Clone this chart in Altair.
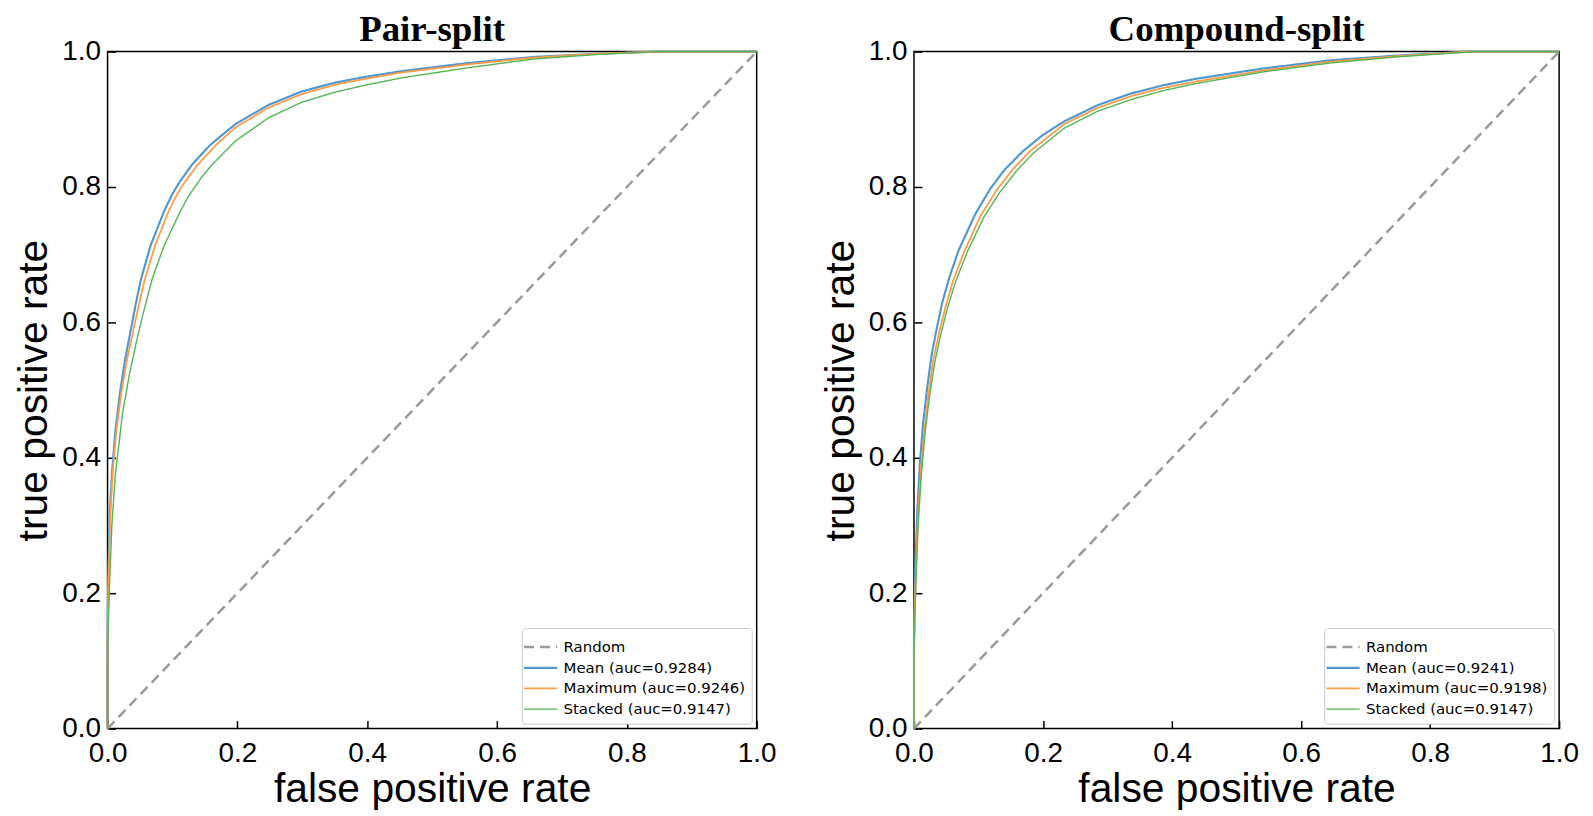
import altair as alt
import pandas as pd

# ---------------- data ----------------
series_keys = ["Random", "Mean", "Maximum", "Stacked"]
series_colors = ["#9a9a9a", "#4f97cf", "#ff9a45", "#55b455"]

random_fpr = [0.0, 1.0]
random_tpr = [0.0, 1.0]

# Pair-split
pair_title = "Pair-split"
pair_auc = ["0.9284", "0.9246", "0.9147"]
pair_mean_fpr = [0, 0, 0.0005, 0.0015, 0.0036, 0.007, 0.012, 0.019, 0.027, 0.035, 0.043, 0.051, 0.066, 0.087, 0.0995, 0.11, 0.13, 0.158, 0.197, 0.2476, 0.2986, 0.35, 0.393, 0.452, 0.554, 0.656, 0.758, 0.85, 1.0]
pair_mean_tpr = [0, 0.13, 0.18, 0.24, 0.32, 0.38, 0.44, 0.495, 0.545, 0.585, 0.625, 0.662, 0.713, 0.764, 0.789, 0.806, 0.833, 0.862, 0.893, 0.921, 0.941, 0.954, 0.962, 0.971, 0.983, 0.992, 0.997, 1.0, 1.0]
pair_max_fpr = [0, 0, 0.0007, 0.002, 0.0045, 0.008, 0.0135, 0.021, 0.030, 0.039, 0.048, 0.057, 0.073, 0.094, 0.107, 0.118, 0.139, 0.167, 0.197, 0.2476, 0.2986, 0.35, 0.393, 0.452, 0.554, 0.656, 0.758, 0.85, 1.0]
pair_max_tpr = [0, 0.13, 0.18, 0.24, 0.32, 0.38, 0.44, 0.495, 0.545, 0.585, 0.625, 0.662, 0.713, 0.764, 0.789, 0.806, 0.833, 0.862, 0.888, 0.917, 0.937, 0.951, 0.959, 0.969, 0.981, 0.991, 0.997, 1.0, 1.0]
pair_stk_fpr = [0, 0, 0.001, 0.003, 0.0066, 0.012, 0.023, 0.033, 0.043, 0.054, 0.069, 0.087, 0.110, 0.125, 0.1455, 0.16, 0.197, 0.2476, 0.2986, 0.35, 0.40, 0.452, 0.554, 0.656, 0.758, 0.85, 1.0]
pair_stk_tpr = [0, 0.1, 0.15, 0.21, 0.3, 0.375, 0.465, 0.52, 0.565, 0.61, 0.665, 0.713, 0.76, 0.787, 0.815, 0.832, 0.868, 0.902, 0.925, 0.94, 0.951, 0.961, 0.976, 0.989, 0.996, 1.0, 1.0]

# Compound-split
comp_title = "Compound-split"
comp_auc = ["0.9241", "0.9198", "0.9147"]
comp_mean_fpr = [0, 0, 0.001, 0.0026, 0.005, 0.009, 0.014, 0.020, 0.027, 0.035, 0.044, 0.055, 0.069, 0.095, 0.118, 0.140, 0.169, 0.2, 0.233, 0.285, 0.336, 0.385, 0.438, 0.541, 0.644, 0.746, 0.86, 1.0]
comp_mean_tpr = [0, 0.13, 0.19, 0.25, 0.32, 0.39, 0.45, 0.5, 0.55, 0.59, 0.63, 0.667, 0.706, 0.76, 0.797, 0.825, 0.853, 0.877, 0.897, 0.921, 0.938, 0.95, 0.96, 0.975, 0.987, 0.994, 1.0, 1.0]
comp_max_fpr = [0, 0, 0.0013, 0.0032, 0.006, 0.0105, 0.016, 0.0225, 0.030, 0.039, 0.049, 0.060, 0.078, 0.103, 0.127, 0.153, 0.18, 0.233, 0.285, 0.336, 0.385, 0.438, 0.541, 0.644, 0.746, 0.86, 1.0]
comp_max_tpr = [0, 0.12, 0.18, 0.24, 0.31, 0.38, 0.44, 0.495, 0.545, 0.585, 0.623, 0.66, 0.705, 0.757, 0.794, 0.826, 0.853, 0.893, 0.917, 0.934, 0.946, 0.956, 0.972, 0.985, 0.993, 1.0, 1.0]
comp_stk_fpr = [0, 0, 0.0015, 0.0035, 0.0065, 0.011, 0.017, 0.024, 0.032, 0.041, 0.051, 0.063, 0.082, 0.108, 0.133, 0.16, 0.185, 0.233, 0.285, 0.336, 0.385, 0.438, 0.541, 0.644, 0.746, 0.87, 1.0]
comp_stk_tpr = [0, 0.11, 0.17, 0.23, 0.3, 0.37, 0.435, 0.49, 0.54, 0.58, 0.618, 0.656, 0.703, 0.755, 0.792, 0.825, 0.85, 0.887, 0.912, 0.929, 0.942, 0.953, 0.970, 0.983, 0.992, 1.0, 1.0]

tick_values = [0.0, 0.2, 0.4, 0.6, 0.8, 1.0]

SANS = "'Liberation Sans', Arial, sans-serif"


def panel(title, aucs, curves, width, height):
    labels = ["Random"] + [f"{k} (auc={a})" for k, a in zip(series_keys[1:], aucs)]
    rows = []
    all_curves = [(random_fpr, random_tpr)] + curves
    for lab, (fx, fy) in zip(labels, all_curves):
        for i, (a, b) in enumerate(zip(fx, fy)):
            rows.append({"series": lab, "fpr": a, "tpr": b, "i": i})
    df = pd.DataFrame(rows)

    axis_common = dict(
        values=tick_values, format=".1f", grid=False, domain=False,
        offset=-8, tickSize=8, tickColor="black", tickWidth=1.5,
        labelFlush=False, labelFont=SANS, labelFontSize=28, labelColor="black",
        titleFont=SANS, titleFontSize=41, titleFontWeight="normal",
        titleColor="black",
    )
    x = alt.X("fpr:Q", scale=alt.Scale(domain=[0, 1], nice=False, zero=False),
              axis=alt.Axis(title="false positive rate", labelPadding=11,
                            titlePadding=2, **axis_common))
    y = alt.Y("tpr:Q", scale=alt.Scale(domain=[0, 1], nice=False, zero=False),
              axis=alt.Axis(title="true positive rate", labelPadding=7,
                            titlePadding=6, **axis_common))
    legend = alt.Legend(
        title=None, orient="bottom-right", offset=5, padding=6,
        strokeColor="#cccccc", fillColor="white", cornerRadius=3,
        symbolType="M-1.45,0L1.45,0", symbolSize=529, symbolStrokeWidth=2,
        labelFont="DejaVu Sans", labelFontSize=15, labelColor="black",
        labelLimit=400, rowPadding=0, labelOffset=10,
    )
    chart = alt.Chart(df, title=alt.TitleParams(
        title, font="Liberation Serif", fontSize=37, fontWeight="bold",
        color="black", anchor="middle", offset=-11, frame="group")).mark_line().encode(
        x=x, y=y,
        color=alt.Color("series:N", scale=alt.Scale(domain=labels, range=series_colors),
                        legend=legend, sort=labels),
        strokeDash=alt.StrokeDash("series:N", scale=alt.Scale(
            domain=labels, range=[[10, 6], [1, 0], [1, 0], [1, 0]]), legend=legend, sort=labels),
        strokeWidth=alt.StrokeWidth("series:N", scale=alt.Scale(
            domain=labels, range=[2.5, 1.4, 1.4, 1.4]), legend=None),
        order="i:Q",
    ).properties(width=width, height=height)
    return chart


left = panel(pair_title, pair_auc,
             [(pair_mean_fpr, pair_mean_tpr), (pair_max_fpr, pair_max_tpr), (pair_stk_fpr, pair_stk_tpr)],
             652, 680)
right = panel(comp_title, comp_auc,
              [(comp_mean_fpr, comp_mean_tpr), (comp_max_fpr, comp_max_tpr), (comp_stk_fpr, comp_stk_tpr)],
              648, 680)

chart = alt.hconcat(left, right, spacing=42).resolve_scale(
    color="independent", strokeDash="independent", strokeWidth="independent"
).properties(
    padding={"left": 5, "top": 0, "right": 5, "bottom": 0}
).configure(background="white").configure_view(stroke="black", strokeWidth=1.5)

chart.save("out.html", embed_options={"renderer": "svg", "actions": False})
